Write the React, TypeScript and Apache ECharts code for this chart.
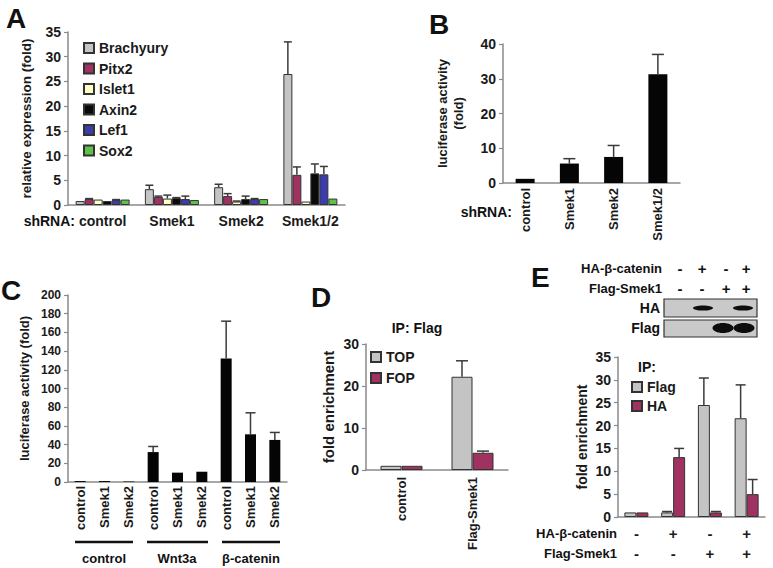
import React, { useEffect, useRef } from "react";
import * as echarts from "echarts";

// ---------- Panel A ----------
const aCategories = ["control", "Smek1", "Smek2", "Smek1/2"];
const aGenes = ["Brachyury", "Pitx2", "Islet1", "Axin2", "Lef1", "Sox2"];
const aColors = ["#c4c4c4", "#a03262", "#ffffc4", "#0a0a0a", "#3d3daa", "#5ec24a"];
const brachyury = [0.8, 3.2, 3.6, 26.5];
const brachyuryErr = [0.8, 4.0, 4.2, 33.0];
const pitx2 = [1.2, 1.6, 1.8, 6.1];
const pitx2Err = [1.3, 1.8, 2.3, 7.7];
const islet1 = [1.1, 1.3, 0.7, 0.7];
const islet1Err = [1.1, 2.0, 0.8, 0.7];
const axin2 = [0.8, 1.4, 1.2, 6.4];
const axin2Err = [0.8, 1.5, 1.8, 8.3];
const lef1 = [1.0, 1.2, 1.2, 6.2];
const lef1Err = [1.1, 1.8, 1.3, 7.8];
const sox2 = [1.1, 1.0, 1.2, 1.3];
const sox2Err = [1.1, 1.0, 1.2, 1.3];
const aTicks = { min: 0, max: 35, interval: 5 };

// ---------- Panel B ----------
const bCategories = ["control", "Smek1", "Smek2", "Smek1/2"];
const bValues = [1.2, 5.6, 7.5, 31.3];
const bErr = [1.2, 7.0, 10.8, 37.0];
const bTicks = { min: 0, max: 40, interval: 10 };

// ---------- Panel C ----------
const cGroups = ["control", "Wnt3a", "β-catenin"];
const cShRNA = ["control", "Smek1", "Smek2"];
const cValues = [1, 1, 0.5, 32, 10, 11, 132, 51, 45];
const cErr = [1, 1, 0.5, 38, 10, 11, 172, 74, 53];
const cTicks = { min: 0, max: 200, interval: 20 };

// ---------- Panel D ----------
const dCategories = ["control", "Flag-Smek1"];
const dTop = [1.0, 22.2];
const dTopErr = [1.0, 26.0];
const dFop = [1.0, 4.1];
const dFopErr = [1.0, 4.5];
const dTicks = { min: 0, max: 30, interval: 10 };

// ---------- Panel E ----------
const eHaBcat = ["-", "+", "-", "+"];
const eFlagSmek = ["-", "-", "+", "+"];
const eFlag = [1.0, 1.0, 24.5, 21.6];
const eFlagErr = [1.0, 1.2, 30.4, 28.9];
const eHa = [1.0, 13.1, 1.0, 5.0];
const eHaErr = [1.0, 15.0, 1.2, 8.2];
const eTicks = { min: 0, max: 35, interval: 5 };

const FONT = "'Liberation Sans', Arial, sans-serif";
const GRAY = "#c4c4c4";
const MAROON = "#a03262";

function errSeries(name: string, axis: number, vals: number[], errs: number[], offset: number, capW: number) {
  const data = vals.map((v, i) => [i, errs[i], v]).filter((d) => d[1] > d[2] + 0.05);
  return {
    type: "custom",
    name,
    xAxisIndex: axis,
    yAxisIndex: axis,
    z: 3,
    encode: { x: 0, y: 1 },
    data,
    renderItem: (params: any, api: any) => {
      const x = api.value(0);
      const top = api.value(1);
      const base = api.value(2);
      const p1 = api.coord([x, base]);
      const p2 = api.coord([x, top]);
      const cx = p1[0] + offset;
      const st = { stroke: "#3a3a3a", lineWidth: 1.5 };
      return {
        type: "group",
        children: [
          { type: "line", shape: { x1: cx, y1: p1[1], x2: cx, y2: p2[1] }, style: st },
          { type: "line", shape: { x1: cx - capW / 2, y1: p2[1], x2: cx + capW / 2, y2: p2[1] }, style: st },
        ],
      };
    },
  };
}

const yAxisBase = (ticks: any, name: string, gap: number, fs: number, nameFs: number, idx: number) => ({
  type: "value",
  gridIndex: idx,
  ...ticks,
  name,
  nameLocation: "middle",
  nameGap: gap,
  nameTextStyle: { fontSize: nameFs, fontWeight: "bold", color: "#1a1a1a", fontFamily: FONT, lineHeight: nameFs + 3 },
  axisLine: { show: true, lineStyle: { color: "#8a8a8a", width: 1.5 } },
  axisTick: { show: true, length: 4, lineStyle: { color: "#8a8a8a", width: 1.2 } },
  splitLine: { show: false },
  axisLabel: { fontSize: fs, fontWeight: "bold", color: "#1a1a1a", margin: 7, fontFamily: FONT },
});

const xAxisBase = (data: string[], idx: number, extra: any) => ({
  type: "category",
  gridIndex: idx,
  data,
  axisLine: { show: true, lineStyle: { color: "#8a8a8a", width: 1.5 } },
  axisTick: { show: false },
  ...extra,
});

export default function App() {
  const ref = useRef<HTMLDivElement>(null);
  useEffect(() => {
    if (!ref.current) return;
    const chart = echarts.init(ref.current, null, { renderer: "svg" });
    const border = { borderColor: "#333", borderWidth: 1 };
    const aVals = [brachyury, pitx2, islet1, axin2, lef1, sox2];
    const aErrs = [brachyuryErr, pitx2Err, islet1Err, axin2Err, lef1Err, sox2Err];
    const aBarW = 9;

    const series: any[] = [];
    aGenes.forEach((g, i) => {
      series.push({
        type: "bar",
        name: g,
        xAxisIndex: 0,
        yAxisIndex: 0,
        data: aVals[i],
        barWidth: aBarW,
        barGap: "0%",
        itemStyle: { color: aColors[i], ...border },
      });
    });
    aGenes.forEach((g, i) => {
      series.push(errSeries(g + "-err", 0, aVals[i], aErrs[i], (i - 2.5) * aBarW, 8));
    });
    series.push({
      type: "bar", name: "B luciferase", xAxisIndex: 1, yAxisIndex: 1, data: bValues, barWidth: 19,
      itemStyle: { color: "#050505" },
    });
    series.push(errSeries("B-err", 1, bValues, bErr, 0, 12));
    series.push({
      type: "bar", name: "C luciferase", xAxisIndex: 2, yAxisIndex: 2, data: cValues, barWidth: 11,
      itemStyle: { color: "#050505" },
    });
    series.push(errSeries("C-err", 2, cValues, cErr, 0, 10));
    series.push({
      type: "bar", name: "TOP", xAxisIndex: 3, yAxisIndex: 3, data: dTop, barWidth: 21, barGap: "0%",
      itemStyle: { color: GRAY, ...border },
    });
    series.push({
      type: "bar", name: "FOP", xAxisIndex: 3, yAxisIndex: 3, data: dFop, barWidth: 21, barGap: "0%",
      itemStyle: { color: MAROON, ...border },
    });
    series.push(errSeries("TOP-err", 3, dTop, dTopErr, -10.5, 12));
    series.push(errSeries("FOP-err", 3, dFop, dFopErr, 10.5, 12));
    series.push({
      type: "bar", name: "Flag", xAxisIndex: 4, yAxisIndex: 4, data: eFlag, barWidth: 12, barGap: "0%",
      itemStyle: { color: GRAY, ...border },
    });
    series.push({
      type: "bar", name: "HA", xAxisIndex: 4, yAxisIndex: 4, data: eHa, barWidth: 12, barGap: "0%",
      itemStyle: { color: MAROON, ...border },
    });
    series.push(errSeries("Flag-err", 4, eFlag, eFlagErr, -6, 10));
    series.push(errSeries("HA-err", 4, eHa, eHaErr, 6, 10));

    const cAxisData: string[] = [];
    cGroups.forEach((g) => cShRNA.forEach((s) => cAxisData.push(g + ":" + s)));
    const eAxisData = eHaBcat.map((h, i) => h + "|" + eFlagSmek[i] + "|" + i);

    const legendText = { fontSize: 14, fontWeight: "bold", color: "#1a1a1a", fontFamily: FONT };
    const legendBase = {
      orient: "vertical", icon: "rect", itemWidth: 10, itemHeight: 10, selectedMode: false,
      textStyle: legendText, padding: 0, itemGap: 6.5,
    };

    const txt = (x: number, y: number, text: string, size: number, align = "center", extra: any = {}) => ({
      type: "text", x, y,
      style: { text, fontSize: size, fontWeight: "bold", fill: "#111", fontFamily: FONT, align, verticalAlign: "middle", ...extra },
    });

    const graphics: any[] = [
      txt(6, 18, "A", 28, "left"),
      txt(429, 24, "B", 28, "left"),
      txt(1, 290, "C", 28, "left"),
      txt(311, 297, "D", 28, "left"),
      txt(531, 277, "E", 28, "left"),
      txt(75, 221, "shRNA:", 14, "right"),
      txt(512, 212, "shRNA:", 14, "right"),
      txt(417, 328, "IP: Flag", 14, "center"),
      txt(647, 367, "IP:", 14, "center"),
      // panel C groups
      { type: "line", shape: { x1: 75, y1: 542, x2: 133, y2: 542 }, style: { stroke: "#111", lineWidth: 2.5 } },
      { type: "line", shape: { x1: 147, y1: 542, x2: 208, y2: 542 }, style: { stroke: "#111", lineWidth: 2.5 } },
      { type: "line", shape: { x1: 222, y1: 542, x2: 280, y2: 542 }, style: { stroke: "#111", lineWidth: 2.5 } },
      txt(104, 558, cGroups[0], 13, "center"),
      txt(177, 558, cGroups[1], 13, "center"),
      txt(251, 558, cGroups[2], 13, "center"),
      // panel E header
      txt(662, 268, "HA-β-catenin", 13, "right"),
      txt(662, 288, "Flag-Smek1", 13, "right"),
      // blot
      { type: "rect", shape: { x: 664, y: 299, width: 93, height: 18 }, style: { fill: "#c9c9c9", stroke: "#333", lineWidth: 1.2 } },
      { type: "rect", shape: { x: 664, y: 320, width: 93, height: 17 }, style: { fill: "#c9c9c9", stroke: "#333", lineWidth: 1.2 } },
      txt(660, 308, "HA", 14, "right"),
      txt(660, 328, "Flag", 14, "right"),
      { type: "ellipse", shape: { cx: 703, cy: 308, rx: 10, ry: 2.6 }, style: { fill: "#0d0d0d" } },
      { type: "ellipse", shape: { cx: 743, cy: 308, rx: 10, ry: 2.6 }, style: { fill: "#0d0d0d" } },
      { type: "ellipse", shape: { cx: 723, cy: 328, rx: 10.5, ry: 5 }, style: { fill: "#0d0d0d" } },
      { type: "ellipse", shape: { cx: 744, cy: 328, rx: 10.5, ry: 5 }, style: { fill: "#0d0d0d" } },
    ];
    const headerX = [680, 702, 726, 746];
    eHaBcat.forEach((s, i) => graphics.push(txt(headerX[i], 268, s, 15, "center")));
    eFlagSmek.forEach((s, i) => graphics.push(txt(headerX[i], 288, s, 15, "center")));
    graphics.push(txt(617, 533, "HA-β-catenin", 13, "right"));
    graphics.push(txt(617, 553, "Flag-Smek1", 13, "right"));

    chart.setOption({
      animation: false,
      textStyle: { fontFamily: FONT },
      grid: [
        { left: 68, top: 32, width: 277, height: 173 },
        { left: 503, top: 44, width: 177, height: 139 },
        { left: 68, top: 295, width: 219, height: 187 },
        { left: 366, top: 344, width: 142, height: 126 },
        { left: 618, top: 357, width: 147, height: 160 },
      ],
      legend: [
        { ...legendBase, data: aGenes, left: 83, top: 41 },
        { ...legendBase, data: ["TOP", "FOP"], left: 370, top: 350, itemGap: 7 },
        { ...legendBase, data: ["Flag", "HA"], left: 631, top: 380, itemGap: 5 },
      ],
      xAxis: [
        xAxisBase(aCategories, 0, {
          axisLabel: { fontSize: 14, fontWeight: "bold", color: "#1a1a1a", margin: 9, interval: 0, fontFamily: FONT },
        }),
        xAxisBase(bCategories, 1, {
          axisLabel: { fontSize: 13, fontWeight: "bold", color: "#1a1a1a", margin: 5, rotate: 90, interval: 0, fontFamily: FONT },
        }),
        xAxisBase(cAxisData, 2, {
          axisLabel: {
            fontSize: 13, fontWeight: "bold", color: "#1a1a1a", margin: 4, rotate: 90, interval: 0, fontFamily: FONT,
            formatter: (v: string) => v.split(":")[1],
          },
        }),
        xAxisBase(dCategories, 3, {
          axisLabel: { fontSize: 13, fontWeight: "bold", color: "#1a1a1a", margin: 7, rotate: 90, interval: 0, fontFamily: FONT },
        }),
        xAxisBase(eAxisData, 4, {
          axisLabel: {
            fontSize: 15, fontWeight: "bold", color: "#1a1a1a", margin: 6, interval: 0, lineHeight: 20, fontFamily: FONT,
            formatter: (v: string) => {
              const p = v.split("|");
              return p[0] + "\n" + p[1];
            },
          },
        }),
      ],
      yAxis: [
        yAxisBase(aTicks, "relative expression (fold)", 33, 14, 13.5, 0),
        yAxisBase(bTicks, "luciferase activity\n(fold)", 37, 14, 13, 1),
        yAxisBase(cTicks, "luciferase activity (fold)", 36, 12, 13, 2),
        yAxisBase(dTicks, "fold enrichment", 29, 14, 15, 3),
        yAxisBase(eTicks, "fold enrichment", 28, 14, 14, 4),
      ],
      series,
      graphic: graphics,
    });
    return () => chart.dispose();
  }, []);
  return <div ref={ref} style={{ position: "absolute", left: 0, top: 0, width: 773, height: 568, background: "#fff" }} />;
}
